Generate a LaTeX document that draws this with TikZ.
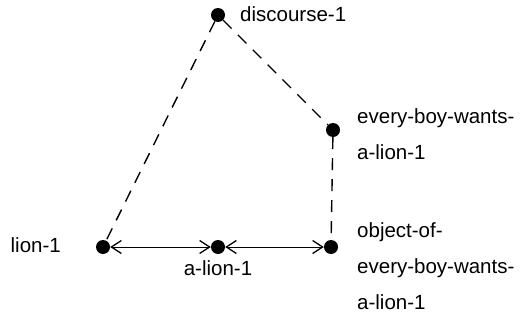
\documentclass[tikz,border=0pt]{standalone}
\usepackage{fontspec}
\setmainfont{Liberation Sans}
\usetikzlibrary{arrows.meta}

\tikzset{
  dot/.style={circle, fill=black, inner sep=0pt, minimum size=14pt},
  lbl/.style={font=\fontsize{20.5}{36}\selectfont, align=left, inner sep=0pt},
  link/.style={black, line width=1.4pt, dash pattern=on 12pt off 9pt},
  pair/.style={black, line width=1pt, {Straight Barb[length=10pt,width=13pt,line width=1.3pt]}-{Straight Barb[length=10pt,width=13pt,line width=1.3pt]}}
}

\begin{document}
\begin{tikzpicture}[x=1pt,y=-1pt]
\useasboundingbox (0,0) rectangle (524,321);

\node[dot] (disc) at (218,15) {};
\node[dot] (boy) at (333,130) {};
\node[dot] (obj) at (331,247) {};
\node[dot] (lion) at (103,247) {};
\node[dot] (alion) at (218,247) {};

\node[lbl, anchor=west] (discl) at (240,14) {discourse-1};
\node[lbl, anchor=north west] (boyl) at (357,108) {every-boy-wants-\\a-lion-1};
\node[lbl, anchor=east] (lionl) at (61,245) {lion-1};
\node[lbl, anchor=north] (alionl) at (218,260) {a-lion-1};
\node[lbl, anchor=north west] (objl) at (357,222) {object-of-\\every-boy-wants-\\a-lion-1};

\draw[link] (disc) -- (lion);
\draw[link] (disc) -- (boy);
\draw[link] (boy) -- (obj);
\draw[pair] (lion) -- (alion);
\draw[pair] (alion) -- (obj);
\end{tikzpicture}
\end{document}
